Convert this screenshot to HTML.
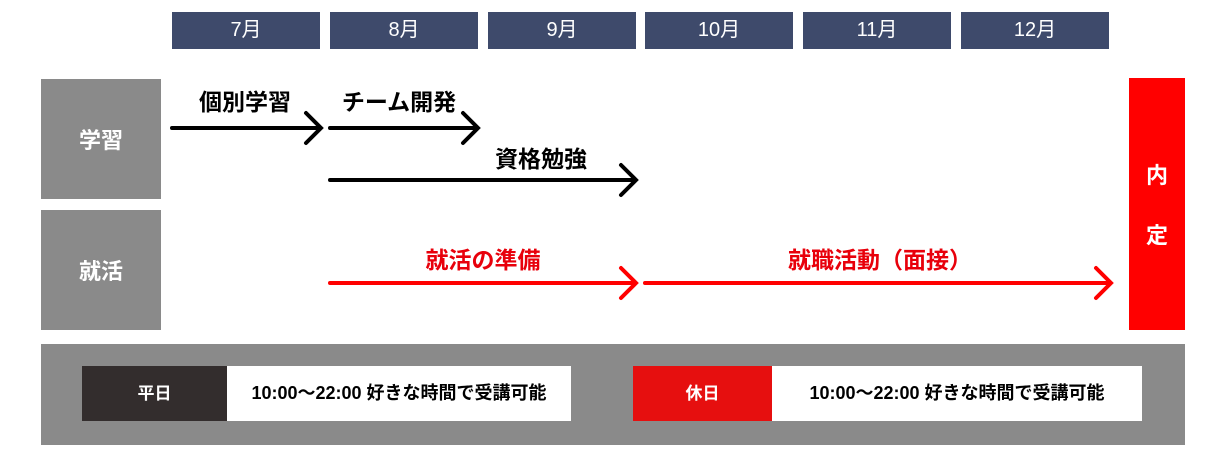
<!DOCTYPE html>
<html><head><meta charset="utf-8"><style>
body{margin:0;width:1230px;height:459px;background:#fff;overflow:hidden;font-family:"Liberation Sans","Noto Sans CJK JP",sans-serif;}
.a{position:absolute;}
.m{background:#3e4a6b;color:#fff;font-size:20px;text-align:center;line-height:37px;top:12px;height:37px;width:148px;}
.g{background:#8a8a8a;color:#fff;font-weight:bold;font-size:22px;display:flex;align-items:center;justify-content:center;}
.l{font-weight:bold;font-size:23px;white-space:nowrap;transform:translateX(-50%);}
.t{font-weight:bold;font-size:18px;line-height:55px;text-align:center;top:366px;height:55px;}
</style></head><body>
<div class="a m" style="left:172px">7月</div>
<div class="a m" style="left:330px">8月</div>
<div class="a m" style="left:488px">9月</div>
<div class="a m" style="left:645px">10月</div>
<div class="a m" style="left:803px">11月</div>
<div class="a m" style="left:961px">12月</div>
<div class="a g" style="left:41px;top:79px;width:120px;height:120px">学習</div>
<div class="a g" style="left:41px;top:210px;width:120px;height:120px">就活</div>
<div class="a" style="left:1129px;top:78px;width:56px;height:252px;background:#f00;color:#fff;font-weight:bold;font-size:22px;text-align:center">
<div style="position:absolute;top:80px;width:56px">内</div><div style="position:absolute;top:140px;width:56px">定</div></div>
<svg class="a" style="left:0;top:0" width="1230" height="459">
<g fill="none" stroke-width="4" stroke-linecap="round">
<g stroke="#000">
<path d="M172 128H320M306 113L321 128L306 143"/>
<path d="M330 128H477M463 113L478 128L463 143"/>
<path d="M330 180H635M621 165L636 180L621 195"/>
</g>
<g stroke="#f00">
<path d="M330 283H635M621 268L636 283L621 298"/>
<path d="M645 283H1110M1096 268L1111 283L1096 298"/>
</g></g></svg>
<div class="a l" style="left:245px;top:83px">個別学習</div>
<div class="a l" style="left:399px;top:83px">チーム開発</div>
<div class="a l" style="left:541px;top:140px">資格勉強</div>
<div class="a l" style="left:483px;top:241px;color:#e8000b">就活の準備</div>
<div class="a l" style="left:880px;top:241px;color:#e8000b">就職活動（面接）</div>
<div class="a" style="left:41px;top:344px;width:1144px;height:101px;background:#8a8a8a"></div>
<div class="a t" style="left:82px;width:145px;background:#332d2d;color:#fff;font-size:17px">平日</div>
<div class="a t" style="left:227px;width:344px;background:#fff">10:00〜22:00 好きな時間で受講可能</div>
<div class="a t" style="left:633px;width:139px;background:#e60f0f;color:#fff;font-size:17px">休日</div>
<div class="a t" style="left:772px;width:370px;background:#fff">10:00〜22:00 好きな時間で受講可能</div>
</body></html>
